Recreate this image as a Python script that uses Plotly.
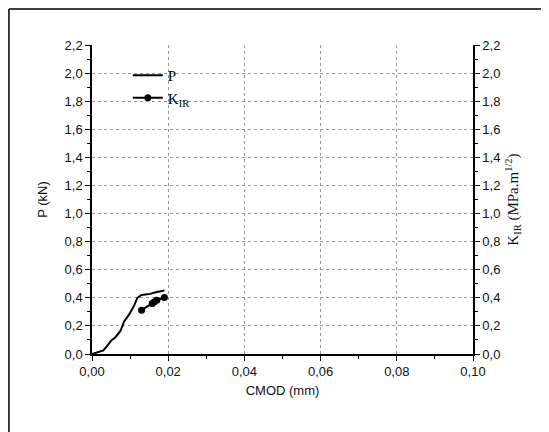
import plotly.graph_objects as go

# CMOD (mm) and load P (kN)
cmod_p = [0.0, 0.0012, 0.0030, 0.0042, 0.0050, 0.0061, 0.0075, 0.0084, 0.0098,
          0.0111, 0.0119, 0.0130, 0.0153, 0.0167, 0.0190]
p_kn = [0.0, 0.008, 0.025, 0.065, 0.095, 0.118, 0.166, 0.230, 0.284,
        0.348, 0.400, 0.420, 0.428, 0.440, 0.452]

# CMOD (mm) and K_IR (MPa.m^1/2)
cmod_k = [0.0130, 0.0158, 0.0163, 0.0170, 0.0190]
k_ir = [0.312, 0.360, 0.370, 0.382, 0.402]

y_ticks = [0.0, 0.2, 0.4, 0.6, 0.8, 1.0, 1.2, 1.4, 1.6, 1.8, 2.0, 2.2]
x_ticks = [0.0, 0.02, 0.04, 0.06, 0.08, 0.10]

fig = go.Figure()
fig.add_trace(go.Scatter(x=cmod_p, y=p_kn, mode="lines", name="P",
                         line=dict(color="black", width=2)))
fig.add_trace(go.Scatter(x=cmod_k, y=k_ir, mode="lines+markers",
                         name="K<sub>IR</sub>", yaxis="y2",
                         line=dict(color="black", width=2),
                         marker=dict(color="black", size=7)))

sans = "Liberation Sans, Arial, sans-serif"
serif = "Liberation Serif, Times New Roman, serif"

axis_common = dict(showline=True, linecolor="black", linewidth=1.5,
                   ticks="outside", ticklen=5, tickwidth=1.2, tickcolor="black",
                   zeroline=False, mirror=False,
                   tickfont=dict(family=sans, size=13, color="#111"))

fig.update_layout(
    width=541, height=424,
    margin=dict(l=84, r=76, t=37, b=78),
    paper_bgcolor="white", plot_bgcolor="white",
    separators=",.",
    showlegend=True,
    legend=dict(x=0.094, y=0.955, xanchor="left", yanchor="top",
                bgcolor="rgba(0,0,0,0)", borderwidth=0,
                font=dict(family=serif, size=15, color="black"),
                tracegroupgap=2),
    xaxis=dict(range=[0, 0.10], tickvals=x_ticks, tickformat=".2f",
               showgrid=True, gridcolor="#9a9a9a", griddash="dot", gridwidth=1,
               minor=dict(dtick=0.01, ticks="outside", ticklen=3, tickcolor="black",
                          showgrid=False),
               title=dict(text="CMOD (mm)", font=dict(family=sans, size=13, color="#111"),
                          standoff=8),
               **axis_common),
    yaxis=dict(range=[0, 2.2], tickvals=y_ticks, tickformat=".1f",
               showgrid=True, gridcolor="#9a9a9a", griddash="dot", gridwidth=1,
               minor=dict(dtick=0.1, ticks="outside", ticklen=3, tickcolor="black",
                          showgrid=False),
               title=dict(text="P (kN)", font=dict(family=sans, size=13, color="#111"),
                          standoff=14),
               **axis_common),
    yaxis2=dict(range=[0, 2.2], tickvals=y_ticks, tickformat=".1f",
                overlaying="y", side="right", showgrid=False,
                minor=dict(dtick=0.1, ticks="outside", ticklen=3, tickcolor="black"),
                title=dict(text="K<sub>IR</sub> (MPa.m<sup>1/2</sup>)",
                           font=dict(family=serif, size=15, color="#111"),
                           standoff=8),
                **axis_common),
    shapes=[
        dict(type="line", xref="paper", yref="paper", x0=-0.218, x1=1.25,
             y0=1.1165, y1=1.1165, line=dict(color="black", width=1.5)),
        dict(type="line", xref="paper", yref="paper", x0=-0.218, x1=-0.218,
             y0=1.1165, y1=-0.3, line=dict(color="black", width=1.5)),
    ],
)

fig.write_html("out.html")
